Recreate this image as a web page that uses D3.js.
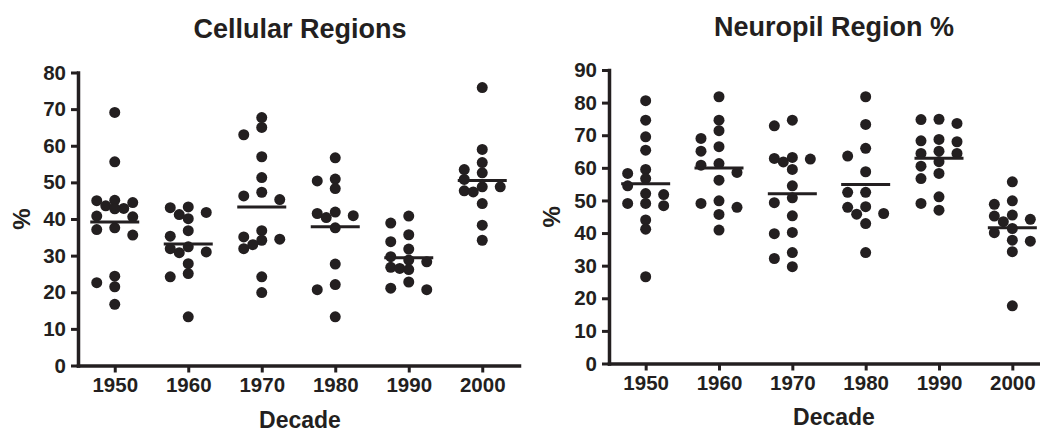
<!DOCTYPE html>
<html>
<head>
<meta charset="utf-8">
<script src="https://cdn.jsdelivr.net/npm/d3@7"></script>
<style>
  body { margin: 0; background: #fff; }
  text { font-family: "Liberation Sans", Arial, sans-serif; font-weight: bold; fill: #231f20; }
</style>
</head>
<body>
<div id="chart"></div>
<script>
// categories
const decades = ["1950", "1960", "1970", "1980", "1990", "2000"];

// Cellular Regions (%), one array per decade
const cell1950 = [69.1, 55.6, 45.1, 45.0, 44.5, 43.6, 42.9, 42.8, 40.8, 40.6, 37.6, 37.1, 35.6, 24.4, 22.6, 21.5, 16.7];
const cell1960 = [43.3, 43.1, 41.8, 41.2, 40.1, 36.8, 35.3, 32.4, 31.9, 31.0, 30.8, 27.8, 25.1, 24.2, 13.3];
const cell1970 = [67.7, 65.0, 63.0, 57.0, 51.3, 47.3, 46.3, 45.3, 36.8, 35.1, 34.5, 34.2, 33.0, 31.9, 24.2, 19.9];
const cell1980 = [56.7, 50.9, 50.4, 48.3, 41.9, 41.5, 40.9, 40.4, 37.6, 27.7, 22.1, 20.7, 13.3];
const cell1990 = [40.8, 38.9, 35.7, 33.8, 31.8, 29.7, 28.8, 28.3, 26.8, 26.5, 26.2, 22.8, 21.1, 20.7];
const cell2000 = [75.9, 59.0, 55.4, 53.5, 52.6, 50.8, 48.8, 48.8, 47.7, 47.4, 44.2, 38.3, 34.2];

// Neuropil Region %, one array per decade
const neuro1950 = [80.6, 74.6, 69.5, 65.4, 59.5, 58.3, 56.7, 54.5, 52.1, 51.8, 49.1, 49.1, 48.4, 44.0, 41.2, 26.6];
const neuro1960 = [81.8, 74.6, 71.4, 69.0, 66.5, 65.1, 61.3, 60.8, 58.6, 56.2, 49.9, 49.1, 47.9, 45.7, 40.9];
const neuro1970 = [74.6, 72.9, 63.2, 62.9, 62.7, 61.8, 59.5, 54.5, 50.8, 49.3, 45.3, 40.2, 39.8, 34.0, 32.2, 29.7];
const neuro1980 = [81.8, 73.3, 66.0, 63.6, 58.8, 52.5, 52.5, 48.1, 47.9, 46.0, 45.8, 42.9, 34.0];
const neuro1990 = [74.9, 74.8, 73.6, 68.7, 68.3, 68.0, 65.1, 64.4, 64.4, 61.9, 60.5, 58.3, 56.7, 51.1, 49.1, 47.0];
const neuro2000 = [55.7, 49.9, 48.8, 45.5, 45.2, 44.2, 43.5, 41.4, 40.1, 37.8, 37.5, 34.3, 17.7];

const cellular = [cell1950, cell1960, cell1970, cell1980, cell1990, cell2000];
const neuropil = [neuro1950, neuro1960, neuro1970, neuro1980, neuro1990, neuro2000];

const ink = "#231f20";
const r = 5.5;

var svg = d3.select("#chart")
  .append("svg")
    .attr("width", 1040)
    .attr("height", 434);

// place points of one group side by side (columns at -18..18 px), overlap allowed when crowded
function swarm(vals, y) {
  var steps = [0, -18, 18, -9, 9];
  var placed = [];
  vals.slice().sort(function(a, b) { return b - a; }).forEach(function(v) {
    var py = y(v);
    var best = 0, bestDist = -1;
    for (var i = 0; i < steps.length; i++) {
      var dmin = d3.min(placed, function(p) {
        var dx = p.dx - steps[i], dy = p.y - py;
        return Math.sqrt(dx * dx + dy * dy);
      });
      if (dmin === undefined) dmin = Infinity;
      if (dmin >= 9) { best = steps[i]; bestDist = dmin; break; }
      if (dmin > bestDist) { best = steps[i]; bestDist = dmin; }
    }
    placed.push({value: v, y: py, dx: best});
  });
  return placed;
}

function draw_panel(groups, opt) {
  var g = svg.append("g");

  var x = d3.scalePoint()
    .domain(decades)
    .range([opt.left, opt.right])
    .padding(0.5);
  var y = d3.scaleLinear()
    .domain([0, opt.yMax])
    .range([opt.bottom, opt.top]);

  // axes
  var xAxis = g.append("g")
    .attr("transform", "translate(0," + opt.bottom + ")")
    .call(d3.axisBottom(x).tickSize(7).tickSizeOuter(0).tickPadding(5));
  var yAxis = g.append("g")
    .attr("transform", "translate(" + opt.left + ",0)")
    .call(d3.axisLeft(y).tickValues(d3.range(0, opt.yMax + 1, 10)).tickSize(7).tickSizeOuter(0).tickPadding(5));
  [xAxis, yAxis].forEach(function(a) {
    a.select(".domain").attr("stroke", ink).attr("stroke-width", 3.5).attr("stroke-linecap", "square");
    a.selectAll(".tick line").attr("stroke", ink).attr("stroke-width", 3);
    a.selectAll(".tick text").attr("font-size", 20.5).attr("fill", ink)
      .style("font-family", "'Liberation Sans', Arial, sans-serif").style("font-weight", "bold");
  });

  // dots and mean lines
  groups.forEach(function(vals, i) {
    var cx = x(decades[i]);
    g.append("g").selectAll("circle")
      .data(swarm(vals, y))
      .join("circle")
        .attr("cx", function(d) { return cx + d.dx; })
        .attr("cy", function(d) { return d.y; })
        .attr("r", r)
        .attr("fill", ink);
    var m = d3.mean(vals);
    g.append("line")
      .attr("x1", cx - 24.5)
      .attr("x2", cx + 24.5)
      .attr("y1", y(m))
      .attr("y2", y(m))
      .attr("stroke", ink)
      .attr("stroke-width", 3);
  });

  // titles
  g.append("text")
    .attr("x", opt.titleX)
    .attr("y", opt.titleY)
    .attr("text-anchor", "middle")
    .attr("font-size", 27)
    .text(opt.title);
  g.append("text")
    .attr("x", opt.titleX)
    .attr("y", opt.xLabelY)
    .attr("text-anchor", "middle")
    .attr("font-size", 23)
    .text("Decade");
  g.append("text")
    .attr("transform", "translate(" + opt.yLabelX + "," + ((opt.top + opt.bottom) / 2) + ") rotate(-90)")
    .attr("text-anchor", "middle")
    .attr("dy", "0.35em")
    .attr("font-size", 24)
    .text("%");
}

draw_panel(cellular, {
  title: "Cellular Regions", yMax: 80,
  left: 78, right: 519, bottom: 365.5, top: 72.5,
  titleX: 300, titleY: 38, xLabelY: 428, yLabelX: 22
});
draw_panel(neuropil, {
  title: "Neuropil Region %", yMax: 90,
  left: 609, right: 1049, bottom: 363.5, top: 70,
  titleX: 834, titleY: 36, xLabelY: 425, yLabelX: 552
});
</script>
</body>
</html>
